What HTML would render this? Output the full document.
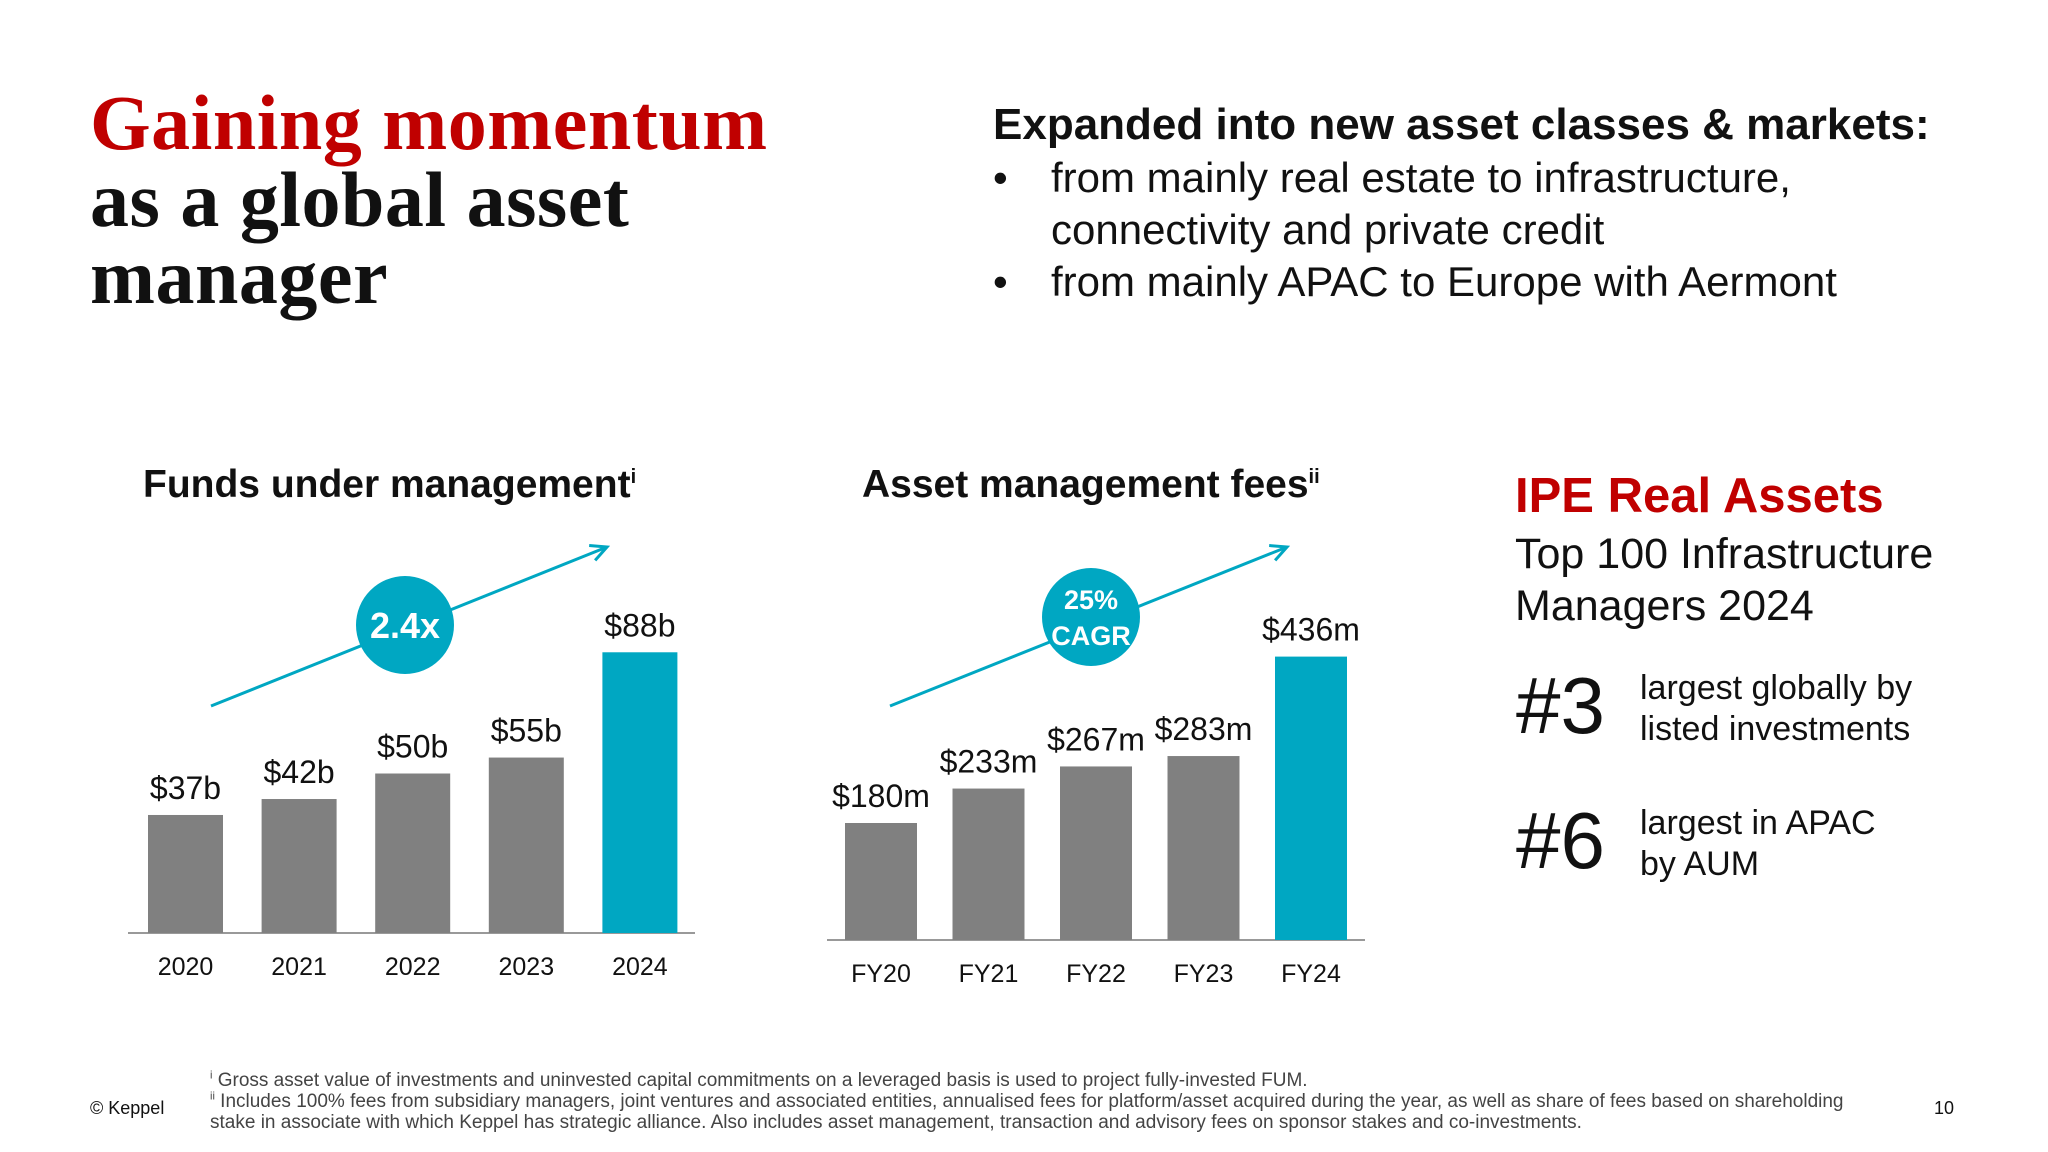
<!DOCTYPE html>
<html><head><meta charset="utf-8"><style>
body{margin:0;width:2048px;height:1152px;background:#fff;position:relative;overflow:hidden;font-family:"Liberation Sans",sans-serif;color:#111}
.a{position:absolute;white-space:nowrap}
.title{font-family:"Liberation Serif",serif;font-weight:bold;font-size:78px;line-height:77px;left:90px;top:84px;letter-spacing:0.5px}
.hdr{left:993px;top:100px;font-weight:bold;font-size:44px}
.bul{font-size:42px;line-height:52px;left:993px;top:152px}
.bul div{position:relative;padding-left:58px}
.ct{font-weight:bold;font-size:39px;top:463px}
.foot{font-size:18px;color:#444}
</style></head><body>
<div class="a title"><span style="color:#c00000">Gaining momentum</span><br>as a global asset<br>manager</div>
<div class="a hdr">Expanded into new asset classes &amp; markets:</div>
<div class="a bul">
<div><span style="position:absolute;left:0">•</span>from mainly real estate to infrastructure,<br>connectivity and private credit</div>
<div><span style="position:absolute;left:0">•</span>from mainly APAC to Europe with Aermont</div>
</div>
<div class="a ct" style="left:143px">Funds under management<sup style="font-size:20px">i</sup></div>
<div class="a ct" style="left:862px">Asset management fees<sup style="font-size:20px">ii</sup></div>
<svg class="a" style="left:0;top:0" width="2048" height="1152">
<g id="c1"></g><g id="c2"></g>
</svg>
<div class="a" style="left:1515px;top:468px;font-size:49px;font-weight:bold;color:#c00000">IPE Real Assets</div>
<div class="a" style="left:1515px;top:528px;font-size:43px;line-height:52px">Top 100 Infrastructure<br>Managers 2024</div>
<div class="a" style="left:1516px;top:660px;font-size:80px">#3</div>
<div class="a" style="left:1640px;top:668px;font-size:34px;line-height:41px">largest globally by<br>listed investments</div>
<div class="a" style="left:1516px;top:795px;font-size:80px">#6</div>
<div class="a" style="left:1640px;top:803px;font-size:34px;line-height:41px">largest in APAC<br>by AUM</div>
<div class="a foot" style="left:90px;top:1098px;color:#111">© Keppel</div>
<div class="a foot" style="left:1934px;top:1098px;color:#111">10</div>
<div class="a foot" style="left:210px;top:1070px;line-height:21px;font-size:19px"><sup style="font-size:11px;line-height:0">i</sup> Gross asset value of investments and uninvested capital commitments on a leveraged basis is used to project fully-invested FUM.<br><sup style="font-size:11px;line-height:0">ii</sup> Includes 100% fees from subsidiary managers, joint ventures and associated entities, annualised fees for platform/asset acquired during the year, as well as share of fees based on shareholding<br>stake in associate with which Keppel has strategic alliance. Also includes asset management, transaction and advisory fees on sponsor stakes and co-investments.</div>
<script>
const fumCats=["2020","2021","2022","2023","2024"];
const fumVals=[37,42,50,55,88];
const fumLabels=["$37b","$42b","$50b","$55b","$88b"];
const feeCats=["FY20","FY21","FY22","FY23","FY24"];
const feeVals=[180,233,267,283,436];
const feeLabels=["$180m","$233m","$267m","$283m","$436m"];
const NS="http://www.w3.org/2000/svg";
function mk(p,t,at){const e=document.createElementNS(NS,t);for(const k in at)e.setAttribute(k,at[k]);p.appendChild(e);return e;}
function chart(g,cats,vals,labels,o){
 const ax=mk(g,'line',{x1:o.ax0,x2:o.ax1,y1:o.base,y2:o.base,stroke:'#999','stroke-width':2});
 
 cats.forEach((c,i)=>{
  const x=o.x0+i*o.pitch,h=vals[i]*o.k;
  const r=mk(g,'rect',{x:x,y:o.base-h,width:o.w,height:h,fill:i==cats.length-1?'#00a7c2':'#808080'});
  
  const t=mk(g,'text',{x:x+o.w/2,y:o.base-h-16,'text-anchor':'middle','font-size':32,fill:'#111'});t.textContent=labels[i];
  
  const l=mk(g,'text',{x:x+o.w/2,y:o.base+42,'text-anchor':'middle','font-size':25,fill:'#111'});l.textContent=c;
  
 });
 const a=mk(g,'line',{x1:o.ar[0],y1:o.ar[1],x2:o.ar[2],y2:o.ar[3],stroke:'#00a7c2','stroke-width':3});
 
 const dx=o.ar[2]-o.ar[0],dy=o.ar[3]-o.ar[1],L=Math.hypot(dx,dy),ux=dx/L,uy=dy/L;
 const hx=o.ar[2],hy=o.ar[3];
 mk(g,'polyline',{points:`${hx-16*ux+8*uy},${hy-16*uy-8*ux} ${hx},${hy} ${hx-16*ux-8*uy},${hy-16*uy+8*ux}`,fill:'none',stroke:'#00a7c2','stroke-width':3});
 const c=mk(g,'circle',{cx:o.cc[0],cy:o.cc[1],r:49,fill:'#00a7c2'});
 
 o.ct.forEach((s,i)=>{const t=mk(g,'text',{x:o.cc[0],y:o.cc[1]+o.cy[i],'text-anchor':'middle','font-size':o.cf,'font-weight':'bold',fill:'#fff'});t.textContent=s;});
}
chart(document.getElementById('c1'),fumCats,fumVals,fumLabels,{ax0:128,ax1:695,base:933,x0:148,pitch:113.6,w:75,k:3.19,ar:[211,706,607,547],cc:[405,625],ct:["2.4x"],cy:[13],cf:36});
chart(document.getElementById('c2'),feeCats,feeVals,feeLabels,{ax0:827,ax1:1365,base:940,x0:845,pitch:107.5,w:72,k:0.65,ar:[890,706,1287,547],cc:[1091,617],ct:["25%","CAGR"],cy:[-8,28],cf:27});
</script>
</body></html>
